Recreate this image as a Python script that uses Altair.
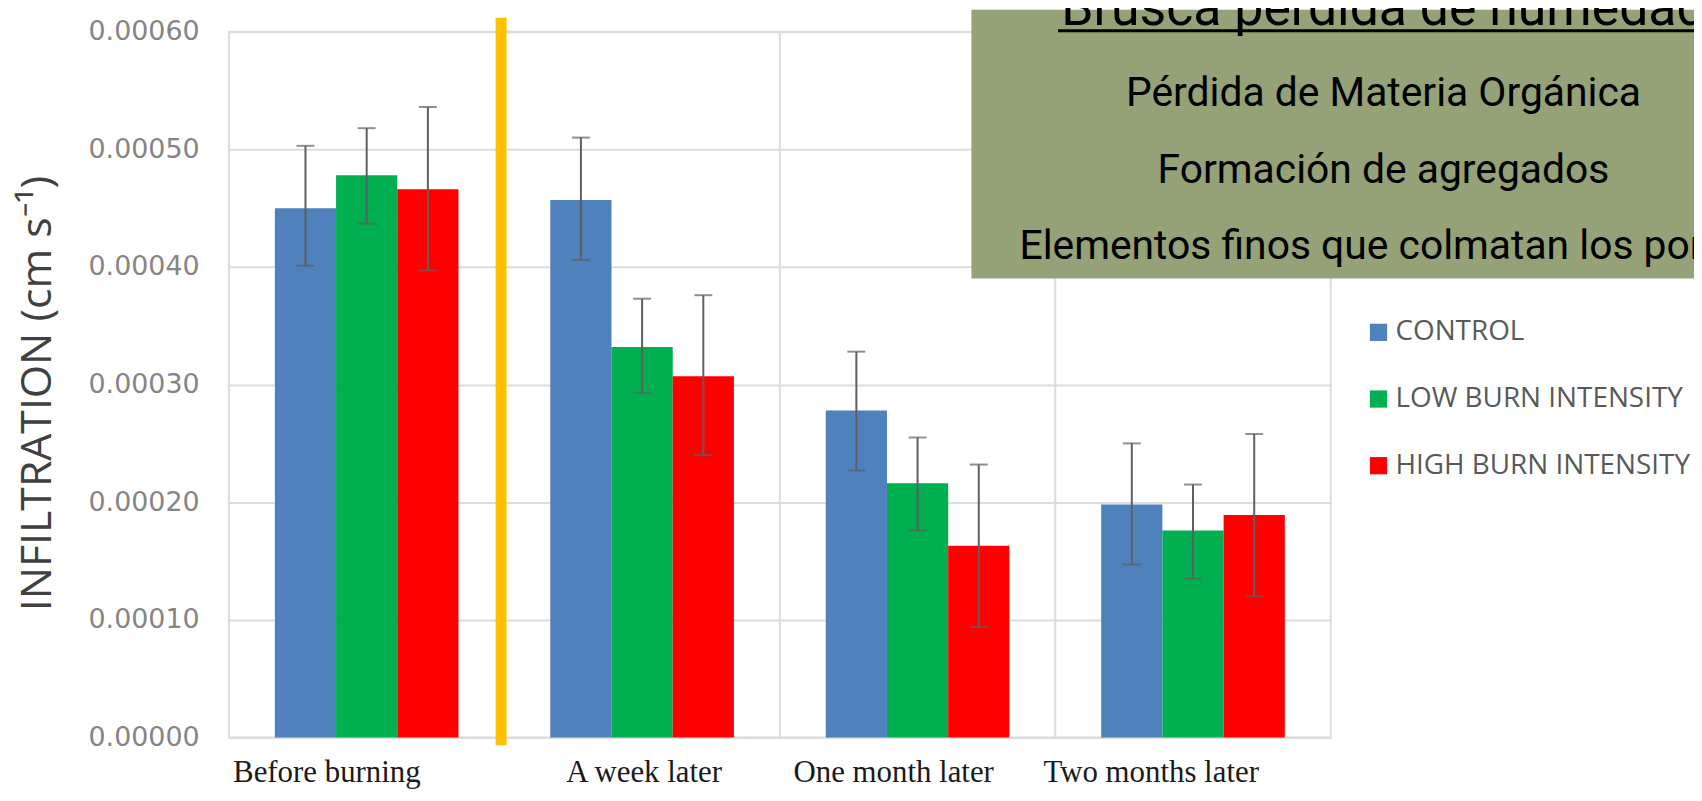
import altair as alt
import pandas as pd

# ---------------- data ----------------
periods = ["Before burning", "A week later", "One month later", "Two months later"]
series = ["CONTROL", "LOW BURN INTENSITY", "HIGH BURN INTENSITY"]
colors = ["#4F81BD", "#00B050", "#FF0000"]

control_mean = [0.000450, 0.000457, 0.000278, 0.000198]
control_low = [0.000401, 0.000406, 0.000227, 0.000147]
control_high = [0.000503, 0.000510, 0.000328, 0.000250]

lowburn_mean = [0.000478, 0.000332, 0.000216, 0.000176]
lowburn_low = [0.000437, 0.000293, 0.000176, 0.000135]
lowburn_high = [0.000518, 0.000373, 0.000255, 0.000215]

highburn_mean = [0.000466, 0.000307, 0.000163, 0.000189]
highburn_low = [0.000397, 0.000240, 0.000094, 0.000120]
highburn_high = [0.000536, 0.000376, 0.000232, 0.000258]

y_ticks = [0.0, 0.0001, 0.0002, 0.0003, 0.0004, 0.0005, 0.0006]

# category boundaries (in category units) for vertical gridlines and the separator
boundaries = [1, 2, 3]
separator = [0.988]

box_lines = [
    "Brusca pérdida de humedad",
    "Pérdida de Materia Orgánica",
    "Formación de agregados",
    "Elementos finos que colmatan los poros",
]

rows = []
for s, m, lo, hi in zip(
    series,
    [control_mean, lowburn_mean, highburn_mean],
    [control_low, lowburn_low, highburn_low],
    [control_high, lowburn_high, highburn_high],
):
    for p, mv, l, h in zip(periods, m, lo, hi):
        rows.append({"period": p, "series": s, "value": mv, "low": l, "high": h})
df = pd.DataFrame(rows)

# ---------------- layout ----------------
W, H = 1107, 709
GRID = "#dcdcdc"
ERR = "#5f5f5f"

xs = alt.Scale(domain=periods, paddingInner=1 / 3, paddingOuter=1 / 6)
x_enc = alt.X("period:N", sort=periods, scale=xs, axis=None)
xo_enc = alt.XOffset("series:N", sort=series, scale=alt.Scale(domain=series))
y_scale = alt.Scale(domain=[0, 0.0006], nice=False)
xq_scale = alt.Scale(domain=[0, len(periods)], nice=False, zero=False)

grid_v = alt.Chart(pd.DataFrame({"b": boundaries})).mark_rule(
    color=GRID, strokeWidth=2
).encode(
    x=alt.X("b:Q", scale=xq_scale, axis=None),
    y=alt.value(0),
    y2=alt.value(H),
)

bars = alt.Chart(df).mark_bar().encode(
    x=x_enc,
    xOffset=xo_enc,
    y=alt.Y(
        "value:Q",
        scale=y_scale,
        axis=alt.Axis(
            values=y_ticks,
            format=".5f",
            title="INFILTRATION (cm s⁻¹)",
            grid=True,
            gridColor=GRID,
            gridWidth=2,
            domain=False,
            ticks=False,
            tickSize=0,
            labelPadding=30,
            labelFont="DejaVu Sans",
            labelFontSize=27,
            labelColor="#858585",
            titleFont="Open Sans",
            titleFontSize=43,
            titleFontWeight="normal",
            titleColor="#404040",
            titleX=-192,
            titleY=363,
            titleAngle=270,
            titleAlign="center",
            titleBaseline="middle",
        ),
    ),
    color=alt.Color(
        "series:N",
        sort=series,
        scale=alt.Scale(domain=series, range=colors),
        legend=alt.Legend(
            orient="none",
            legendX=1141,
            legendY=288,
            title=None,
            symbolType="square",
            symbolSize=300,
            symbolStrokeWidth=0,
            labelFont="Open Sans",
            labelFontSize=28,
            labelColor="#595959",
            labelOffset=3,
            labelLimit=500,
            rowPadding=39,
            padding=0,
        ),
    ),
)

err = alt.Chart(df).mark_rule(color=ERR, strokeWidth=2).encode(
    x=x_enc, xOffset=xo_enc, y=alt.Y("low:Q", scale=y_scale), y2="high:Q"
)
cap_hi = alt.Chart(df).mark_tick(color=ERR, thickness=2, size=18).encode(
    x=x_enc, xOffset=xo_enc, y=alt.Y("high:Q", scale=y_scale)
)
cap_lo = alt.Chart(df).mark_tick(color=ERR, thickness=2, size=18).encode(
    x=x_enc, xOffset=xo_enc, y=alt.Y("low:Q", scale=y_scale)
)

sep = alt.Chart(pd.DataFrame({"b": separator})).mark_rule(
    color="#FFC000", strokeWidth=11
).encode(
    x=alt.X("b:Q", scale=xq_scale, axis=None),
    y=alt.value(-14),
    y2=alt.value(717),
)

label_nudge = [-40, 2, -24, -42]
xlabels = [
    alt.Chart(pd.DataFrame({"period": [p]})).mark_text(
        font="Liberation Serif", fontSize=31, color="#1a1a1a",
        baseline="alphabetic", align="center", dx=dx,
    ).encode(
        x=x_enc,
        y=alt.value(754),
        text="period:N",
    )
    for p, dx in zip(periods, label_nudge)
]

box = alt.Chart(pd.DataFrame({"k": [0]})).mark_rect(color="#95A176").encode(
    x=alt.value(746), x2=alt.value(1480), y=alt.value(-22), y2=alt.value(248)
)

BOX_CX = 1160
box_style = [(-7, 52), (75, 41), (152, 41), (228, 41)]
box_texts = [
    alt.Chart(pd.DataFrame({"t": [t]})).mark_text(
        font="Roboto", fontSize=fs, color="#000000",
        align="center", baseline="alphabetic",
    ).encode(text="t:N", x=alt.value(BOX_CX), y=alt.value(yb))
    for t, (yb, fs) in zip(box_lines, box_style)
]
underline = alt.Chart(pd.DataFrame({"k": [0]})).mark_rule(
    color="#000000", strokeWidth=3
).encode(x=alt.value(833), x2=alt.value(1480), y=alt.value(-1))

chart = alt.layer(
    grid_v, bars, err, cap_hi, cap_lo, sep, *xlabels, box, *box_texts, underline
).resolve_scale(
    x="independent"
).properties(
    width=W,
    height=H,
    padding={"left": 222, "top": 22, "right": 365, "bottom": 54},
    autosize=alt.AutoSizeParams(type="none"),
    background="white",
).configure_view(stroke=GRID, strokeWidth=2)

chart.save("out.html", embed_options={"renderer": "svg", "actions": False})
